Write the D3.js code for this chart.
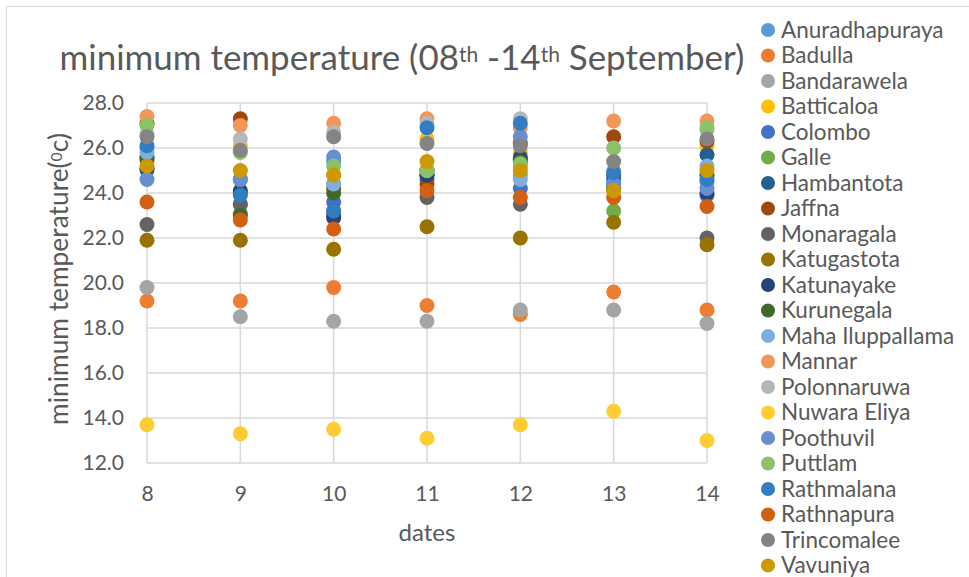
<!DOCTYPE html>
<html><head><meta charset="utf-8">
<script src="https://cdn.jsdelivr.net/npm/d3@7"></script>
<style>body{margin:0;background:#fff}svg{display:block}text{font-family:Lato,"Open Sans",sans-serif;fill:#595959}</style>
</head><body>
<svg id="c" width="969" height="577"></svg>
<script>
const dates = [8, 9, 10, 11, 12, 13, 14];
const yTicks = [12, 14, 16, 18, 20, 22, 24, 26, 28];
const stations = ["Anuradhapuraya","Badulla","Bandarawela","Batticaloa","Colombo","Galle","Hambantota","Jaffna","Monaragala","Katugastota","Katunayake","Kurunegala","Maha Iluppallama","Mannar","Polonnaruwa","Nuwara Eliya","Poothuvil","Puttlam","Rathmalana","Rathnapura","Trincomalee","Vavuniya"];
const colors = ["#5B9BD5","#ED7D31","#A5A5A5","#FFC000","#4472C4","#70AD47","#255E91","#9E480E","#636363","#997300","#264478","#43682B","#7CAFDD","#F1975A","#B7B7B7","#FFCD33","#698ED0","#8CC168","#327DC2","#D26012","#848484","#CC9A00"];
const anuradhapuraya = [26.0, 24.6, 25.4, 24.8, 24.8, 24.5, 24.5];
const badulla = [19.2, 19.2, 19.8, 19.0, 18.6, 19.6, 18.8];
const bandarawela = [19.8, 18.5, 18.3, 18.3, 18.8, 18.8, 18.2];
const batticaloa = [25.4, 26.1, 24.8, 26.4, 25.8, 24.2, 26.1];
const colombo = [25.0, 23.5, 23.6, 24.6, 24.2, 24.6, 23.9];
const galle = [25.6, 23.1, 24.4, 25.0, 25.2, 23.2, 24.8];
const hambantota = [25.6, 24.0, 23.2, 24.8, 25.6, 24.4, 25.7];
const jaffna = [27.1, 27.3, 24.2, 24.4, 26.2, 26.5, 26.3];
const monaragala = [22.6, 23.5, 23.0, 23.8, 23.5, 24.2, 22.0];
const katugastota = [21.9, 21.9, 21.5, 22.5, 22.0, 22.7, 21.7];
const katunayake = [25.1, 24.1, 22.9, 24.8, 25.5, 24.8, 24.0];
const kurunegala = [25.5, 23.0, 24.0, 25.0, 25.4, 24.2, 24.8];
const mahaIluppallama = [25.8, 24.6, 24.4, 25.0, 24.6, 24.4, 25.2];
const mannar = [27.4, 27.0, 27.1, 27.3, 26.9, 27.2, 27.2];
const polonnaruwa = [26.6, 26.4, 26.7, 27.1, 27.3, 25.0, 26.8];
const nuwaraEliya = [13.7, 13.3, 13.5, 13.1, 13.7, 14.3, 13.0];
const poothuvil = [24.6, 24.6, 25.6, 25.0, 26.5, 24.4, 24.2];
const puttlam = [27.0, 25.8, 25.2, 25.0, 25.3, 26.0, 26.9];
const rathmalana = [26.1, 23.9, 23.2, 26.9, 27.1, 24.9, 24.6];
const rathnapura = [23.6, 22.8, 22.4, 24.1, 23.8, 23.8, 23.4];
const trincomalee = [26.5, 25.9, 26.5, 26.2, 26.1, 25.4, 26.4];
const vavuniya = [25.2, 25.0, 24.8, 25.4, 25.0, 24.1, 25.0];
const values = [anuradhapuraya,badulla,bandarawela,batticaloa,colombo,galle,hambantota,jaffna,monaragala,katugastota,katunayake,kurunegala,mahaIluppallama,mannar,polonnaruwa,nuwaraEliya,poothuvil,puttlam,rathmalana,rathnapura,trincomalee,vavuniya];

const svg = d3.select("#c");
svg.append("rect").attr("x",6.5).attr("y",6.5).attr("width",980).attr("height",600)
  .attr("fill","#fff").attr("stroke","#D9D9D9");

const x = d3.scaleLinear().domain([8,14]).range([147,707]);
const y = d3.scaleLinear().domain([12,28]).range([463,103]);

function fit(sel, w){
  const fs = parseFloat(sel.attr("font-size"));
  const bw = sel.node().getBBox().width;
  sel.attr("font-size", fs*w/bw);
}

// gridlines
svg.append("g").selectAll("line").data(yTicks).join("line")
  .attr("x1",x(8)).attr("x2",x(14)).attr("y1",d=>y(d)).attr("y2",d=>y(d))
  .attr("stroke","#D9D9D9").attr("stroke-width",1.5);
svg.append("g").selectAll("line").data(dates).join("line")
  .attr("y1",y(12)).attr("y2",y(28)).attr("x1",d=>x(d)).attr("x2",d=>x(d))
  .attr("stroke","#D9D9D9").attr("stroke-width",1.5);

// axes labels
const yAxis = svg.append("g").attr("transform",`translate(${x(8)},0)`)
  .call(d3.axisLeft(y).tickValues(yTicks).tickFormat(d3.format(".1f")).tickSize(0).tickPadding(23));
yAxis.select(".domain").remove();
yAxis.selectAll("text").attr("font-size",21).attr("fill","#595959").style("font-family","Lato");
const xAxis = svg.append("g").attr("transform",`translate(0,${y(12)})`)
  .call(d3.axisBottom(x).tickValues(dates).tickFormat(d3.format("d")).tickSize(0).tickPadding(23));
xAxis.select(".domain").remove();
xAxis.selectAll("text").attr("font-size",21).attr("fill","#595959").style("font-family","Lato");

// points
stations.forEach((s,i)=>{
  svg.append("g").selectAll("circle").data(values[i]).join("circle")
    .attr("cx",(d,j)=>x(dates[j])).attr("cy",d=>y(d)).attr("r",7.5).attr("fill",colors[i]);
});

// title
const t = svg.append("text").attr("x",402).attr("y",70).attr("text-anchor","middle").attr("font-size",34);
t.append("tspan").text("minimum temperature (08");
t.append("tspan").text("th").attr("font-size","0.6em").attr("dy","-0.4em");
t.append("tspan").text(" -14").attr("dy","0.24em");
t.append("tspan").text("th").attr("font-size","0.6em").attr("dy","-0.4em");
t.append("tspan").text(" September)").attr("dy","0.24em");
fit(t, 685);

// axis titles
svg.append("text").attr("x",427).attr("y",541).attr("text-anchor","middle").attr("font-size",24).text("dates");
const yt = svg.append("text").attr("transform","translate(68,279) rotate(-90)").attr("text-anchor","middle").attr("font-size",26);
yt.append("tspan").text("minimum temperature(");
yt.append("tspan").text("0").attr("font-size","0.6em").attr("dy","-0.4em");
yt.append("tspan").text("c)").attr("dy","0.24em");
fit(yt, 292);

// legend
const lg = svg.append("g").selectAll("g").data(stations).join("g")
  .attr("transform",(d,i)=>`translate(768,${30+i*25.5})`);
lg.append("circle").attr("r",7).attr("fill",(d,i)=>colors[i]);
lg.append("text").attr("x",13).attr("dy","0.35em").attr("font-size",22.5).text(d=>d);
</script>
</body></html>
